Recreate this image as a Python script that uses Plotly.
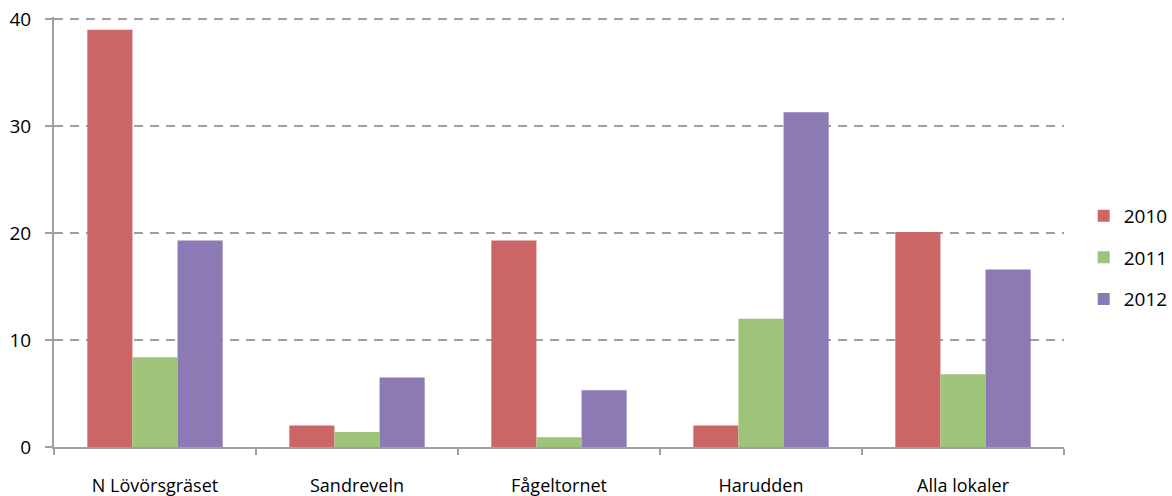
import plotly.graph_objects as go

categories = ["N Lövörsgräset", "Sandreveln", "Fågeltornet", "Harudden", "Alla lokaler"]
series_names = ["2010", "2011", "2012"]
values_2010 = [39.0, 2.0, 19.3, 2.0, 20.1]
values_2011 = [8.4, 1.4, 0.9, 12.0, 6.8]
values_2012 = [19.3, 6.5, 5.3, 31.3, 16.6]
colors = ["#CC6666", "#9EC47A", "#8C7AB5"]
y_ticks = [0, 10, 20, 30, 40]

fig = go.Figure()
for name, vals, col in zip(series_names, [values_2010, values_2011, values_2012], colors):
    fig.add_trace(go.Bar(x=categories, y=vals, name=name, legendgroup=name,
                         marker=dict(color=col, line=dict(width=0))))

font_family = "Open Sans, Liberation Sans, sans-serif"
fig.update_layout(
    width=1172, height=496,
    margin=dict(l=54, r=108, t=17, b=49, autoexpand=False),
    plot_bgcolor="white", paper_bgcolor="white",
    barmode="group", bargap=0.33, bargroupgap=0,
    font=dict(family=font_family, size=18, color="#000000"),
    legend=dict(x=1.0195, y=0.44, yanchor="middle", xanchor="left",
                font=dict(size=19), tracegroupgap=14, itemwidth=30,
                traceorder="grouped", bgcolor="rgba(0,0,0,0)"),
    showlegend=True,
)
fig.update_xaxes(
    showline=True, linecolor="#A0A0A0", linewidth=2, automargin=False,
    ticks="outside", tickson="boundaries", ticklen=6, tickcolor="#A0A0A0", tickwidth=2,
    showgrid=False, tickfont=dict(size=18), ticklabelstandoff=21,
)
fig.update_yaxes(
    range=[0, 40.2], tickvals=y_ticks, showline=True, linecolor="#A0A0A0", linewidth=2,
    automargin=False,
    ticks="outside", ticklen=7, tickcolor="#A0A0A0", tickwidth=2,
    showgrid=True, gridcolor="#A0A0A0", gridwidth=2, griddash="9px,7px",
    zeroline=False, tickfont=dict(size=19), ticklabelstandoff=10,
)
fig.write_html("out.html")
